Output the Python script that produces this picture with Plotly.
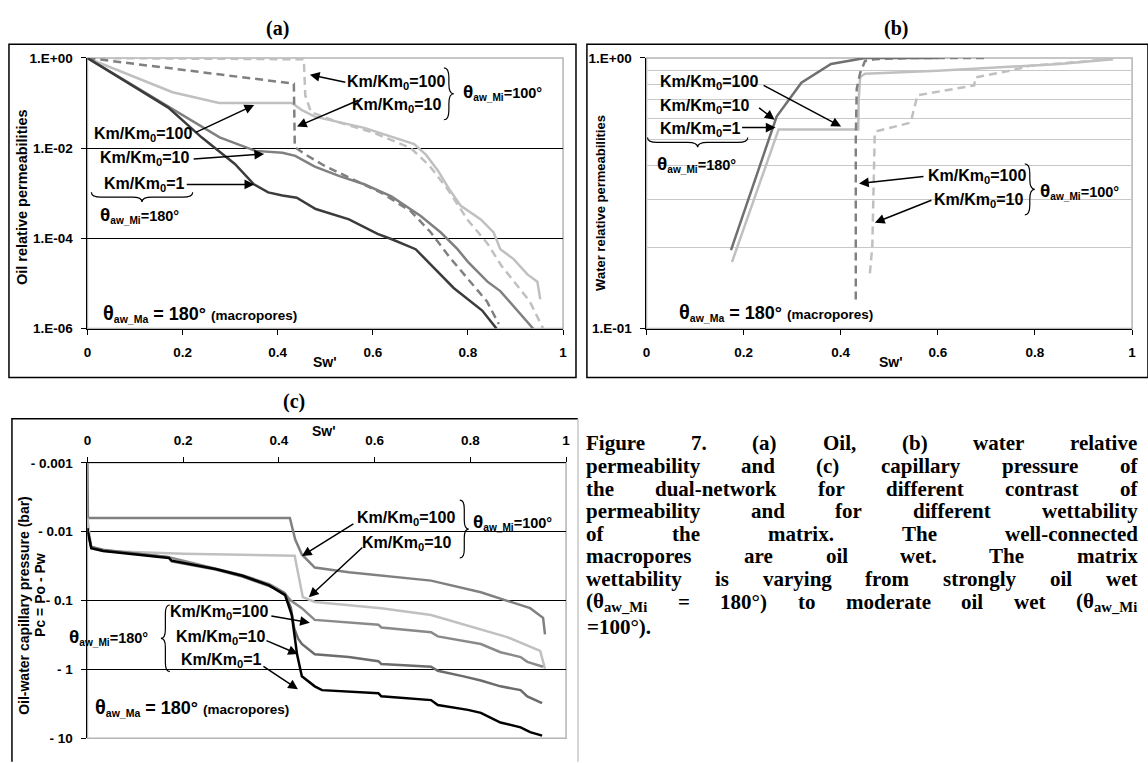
import plotly.graph_objects as go

W, H = 1148, 763
SANS = "Liberation Sans, Arial, sans-serif"
SERIF = "Liberation Serif, Times New Roman, serif"
DARK, MED, LIGHT, BLACK = "#3c3c3c", "#808080", "#c0c0c0", "#000000"

# ---------------- (a) oil relative permeability : log10(kro) vs Sw' ----------------
a_sw_km1_180 = [0, 0.17, 0.24, 0.31, 0.35, 0.38, 0.41, 0.44, 0.48, 0.55, 0.61, 0.64, 0.69, 0.73, 0.77, 0.83, 0.86]
a_lg_km1_180 = [0, -1.1, -1.76, -2.35, -2.8, -2.98, -3.05, -3.1, -3.35, -3.58, -3.9, -4.02, -4.24, -4.67, -5.1, -5.6, -6.0]
a_sw_km10_180 = [0, 0.17, 0.278, 0.353, 0.41, 0.437, 0.478, 0.53, 0.582, 0.639, 0.70, 0.743, 0.778, 0.80, 0.841, 0.868, 0.91, 0.937]
a_lg_km10_180 = [0, -1.08, -1.76, -2.06, -2.1, -2.17, -2.41, -2.62, -2.8, -3.07, -3.5, -3.87, -4.24, -4.52, -4.96, -5.17, -5.67, -6.0]
a_sw_km100_180 = [0, 0.179, 0.277, 0.43, 0.45, 0.478, 0.582, 0.687, 0.712, 0.737, 0.76, 0.785, 0.827, 0.854, 0.868, 0.896, 0.925, 0.946, 0.952]
a_lg_km100_180 = [0, -0.76, -1.0, -1.0, -1.15, -1.3, -1.55, -1.91, -2.15, -2.5, -2.9, -3.28, -3.58, -3.87, -4.24, -4.46, -4.8, -4.96, -5.35]
a_sw_km100_100 = [0, 0.434, 0.436, 0.46, 0.50, 0.56, 0.62, 0.68, 0.722, 0.76, 0.80, 0.84, 0.865]
a_lg_km100_100 = [0, -0.57, -1.98, -2.15, -2.4, -2.7, -3.0, -3.4, -3.87, -4.4, -4.9, -5.4, -5.9]
a_sw_km10_100 = [0, 0.455, 0.458, 0.47, 0.52, 0.60, 0.68, 0.72, 0.76, 0.80, 0.84, 0.87, 0.90, 0.93, 0.958]
a_lg_km10_100 = [0, -0.03, -0.83, -1.2, -1.4, -1.65, -2.0, -2.4, -2.95, -3.6, -4.1, -4.6, -5.0, -5.4, -6.0]

# ---------------- (b) water relative permeability : krw vs Sw' ----------------
b_sw_km10_180 = [0.174, 0.268, 0.319, 0.38, 0.45, 0.6]
b_kr_km10_180 = [0.195, 0.607, 0.81, 0.95, 1.0, 1.0]
b_sw_km100_180 = [0.176, 0.272, 0.436, 0.437, 0.44, 0.45, 0.60, 0.70, 0.85, 0.961]
b_kr_km100_180 = [0.176, 0.544, 0.544, 0.7, 0.85, 0.875, 0.897, 0.92, 0.95, 0.99]
b_sw_km100_100 = [0.431, 0.431, 0.433, 0.44, 0.45, 0.47, 0.55, 0.7]
b_kr_km100_100 = [0.128, 0.5, 0.77, 0.88, 0.975, 0.99, 1.0, 1.0]
b_sw_km10_100 = [0.46, 0.465, 0.47, 0.472, 0.544, 0.552, 0.558, 0.675, 0.677, 0.748, 0.789, 0.87, 0.953]
b_kr_km10_100 = [0.16, 0.2, 0.52, 0.535, 0.577, 0.653, 0.728, 0.792, 0.847, 0.897, 0.935, 0.96, 0.99]

# ---------------- (c) capillary pressure : log10(-Pc [bar]) vs Sw' ----------------
c_sw_km100_100 = [0, 0.001, 0.423, 0.434, 0.448, 0.475, 0.546, 0.63, 0.718, 0.822, 0.925, 0.952, 0.956]
c_lg_km100_100 = [-3, -2.2, -2.2, -1.89, -1.67, -1.48, -1.41, -1.35, -1.29, -1.12, -0.89, -0.75, -0.51]
c_sw_km10_100 = [0, 0.008, 0.033, 0.2, 0.433, 0.44, 0.45, 0.475, 0.614, 0.718, 0.786, 0.877, 0.946, 0.956]
c_lg_km10_100 = [-2.2, -1.76, -1.72, -1.68, -1.65, -1.4, -1.05, -0.98, -0.89, -0.79, -0.65, -0.47, -0.27, -0.01]
c_sw_km100_180 = [0, 0.001, 0.008, 0.033, 0.17, 0.268, 0.324, 0.38, 0.41, 0.425, 0.437, 0.448, 0.475, 0.546, 0.608, 0.614, 0.718, 0.732, 0.795, 0.822, 0.863, 0.905, 0.919, 0.952]
c_lg_km100_180 = [-2.05, -2.0, -1.78, -1.74, -1.63, -1.47, -1.37, -1.24, -1.12, -1.0, -0.94, -0.89, -0.72, -0.68, -0.65, -0.61, -0.54, -0.48, -0.40, -0.37, -0.25, -0.18, -0.11, -0.04]
c_sw_km10_180 = [0, 0.001, 0.008, 0.033, 0.17, 0.176, 0.268, 0.324, 0.38, 0.413, 0.425, 0.432, 0.44, 0.448, 0.475, 0.546, 0.608, 0.614, 0.718, 0.732, 0.786, 0.822, 0.863, 0.905, 0.919, 0.95]
c_lg_km10_180 = [-2.05, -2.0, -1.78, -1.73, -1.63, -1.57, -1.45, -1.35, -1.21, -1.1, -0.9, -0.6, -0.45, -0.37, -0.22, -0.18, -0.12, -0.08, -0.04, 0.02, 0.10, 0.16, 0.245, 0.30, 0.39, 0.49]
c_sw_km1_180 = [0, 0.001, 0.008, 0.033, 0.17, 0.176, 0.268, 0.324, 0.38, 0.413, 0.427, 0.434, 0.438, 0.448, 0.475, 0.49, 0.608, 0.614, 0.718, 0.732, 0.795, 0.822, 0.863, 0.905, 0.925, 0.95]
c_lg_km1_180 = [-2.05, -2.0, -1.76, -1.72, -1.62, -1.58, -1.46, -1.36, -1.22, -1.08, -0.79, -0.47, -0.22, 0.10, 0.245, 0.30, 0.345, 0.39, 0.445, 0.516, 0.587, 0.63, 0.77, 0.84, 0.91, 0.96]

sw_ticks = [0, 0.2, 0.4, 0.6, 0.8, 1]
sw_ticktext = ["0", "0.2", "0.4", "0.6", "0.8", "1"]
a_yticks = [1e-6, 1e-4, 1e-2, 1]
a_yticktext = ["1.E-06", "1.E-04", "1.E-02", "1.E+00"]
b_yticks = [0.1, 1]
b_yticktext = ["1.E-01", "1.E+00"]
b_minor = [0.2, 0.3, 0.4, 0.5, 0.6, 0.7, 0.8, 0.9]
c_yticks = [0.001, 0.01, 0.1, 1, 10]
c_yticktext = ["- 0.001", "- 0.01", "- 0.1", "- 1", "- 10"]

caption_lines = [
    "Figure 7. (a) Oil, (b) water relative",
    "permeability and (c) capillary pressure of",
    "the dual-network for different contrast of",
    "permeability and for different wettability",
    "of the matrix. The well-connected",
    "macropores are oil wet. The matrix",
    "wettability is varying from strongly oil wet",
    "(θ<sub>aw_Mi</sub> = 180°) to moderate oil wet (θ<sub>aw_Mi</sub>",
    "=100°).",
]

fig = go.Figure()


def line(x, y, color, xa, ya, dash="solid", width=2.5):
    fig.add_trace(go.Scatter(x=x, y=y, mode="lines", xaxis=xa, yaxis=ya,
                             line=dict(color=color, width=width, dash=dash),
                             showlegend=False, hoverinfo="skip"))


def pw(v):
    return [10 ** t for t in v]


DASH = "8px,5px"
# (a)
line(a_sw_km10_100, pw(a_lg_km10_100), LIGHT, "x", "y", DASH)
line(a_sw_km100_180, pw(a_lg_km100_180), LIGHT, "x", "y")
line(a_sw_km100_100, pw(a_lg_km100_100), MED, "x", "y", DASH)
line(a_sw_km10_180, pw(a_lg_km10_180), MED, "x", "y")
line(a_sw_km1_180, pw(a_lg_km1_180), DARK, "x", "y")
# (b)
line(b_sw_km10_100, b_kr_km10_100, LIGHT, "x2", "y2", DASH)
line(b_sw_km100_180, b_kr_km100_180, LIGHT, "x2", "y2")
line(b_sw_km100_100, b_kr_km100_100, MED, "x2", "y2", DASH)
line(b_sw_km10_180, b_kr_km10_180, "#707070", "x2", "y2")
# (c)
line(c_sw_km100_100, pw(c_lg_km100_100), MED, "x3", "y3")
line(c_sw_km10_100, pw(c_lg_km10_100), LIGHT, "x3", "y3")
line(c_sw_km100_180, pw(c_lg_km100_180), "#8a8a8a", "x3", "y3")
line(c_sw_km10_180, pw(c_lg_km10_180), "#6c6c6c", "x3", "y3")
line(c_sw_km1_180, pw(c_lg_km1_180), BLACK, "x3", "y3")

TICKFONT = dict(family=SANS, size=13.5, color="black", weight="bold")


def xax(dom, anchor, side="bottom"):
    return dict(domain=dom, anchor=anchor, side=side, range=[0, 1], tickvals=sw_ticks,
                ticktext=sw_ticktext, ticks="outside", ticklen=5, tickcolor="black",
                showline=True, linecolor="black", linewidth=1, showgrid=False,
                zeroline=False, tickfont=TICKFONT, ticklabelstandoff=6, fixedrange=True)


def yax(dom, anchor, rng, tv, tt, minor_vals, minor_color):
    return dict(domain=dom, anchor=anchor, type="log", range=rng, tickvals=tv, ticktext=tt,
                ticks="outside", ticklen=5, tickcolor="black", showline=True,
                linecolor="black", linewidth=1, showgrid=False, zeroline=False,
                tickfont=TICKFONT, ticklabelstandoff=6,
                minor=dict(tickvals=minor_vals, showgrid=True, gridcolor=minor_color,
                           gridwidth=1, ticks=""))


def dom_x(p0, p1):
    return [p0 / W, p1 / W]


def dom_y(top, bot):
    return [1 - bot / H, 1 - top / H]


fig.update_layout(
    width=W, height=H, margin=dict(l=0, r=0, t=0, b=0),
    paper_bgcolor="white", plot_bgcolor="white", showlegend=False,
    xaxis=xax(dom_x(84, 563), "y"),
    yaxis=yax(dom_y(52, 328), "x", [-6, 0], a_yticks, a_yticktext, [1e-4, 1e-2], "black"),
    xaxis2=xax(dom_x(647, 1136), "y2"),
    yaxis2=yax(dom_y(52, 328), "x2", [-1, 0], b_yticks, b_yticktext, b_minor, "#c8c8c8"),
    xaxis3=xax(dom_x(84, 566), "y3", side="top"),
    yaxis3=yax(dom_y(465, 746), "x3", [1, -3], c_yticks, c_yticktext, [0.01, 0.1, 1], "black"),
)


def P(x, y):
    return f"{x / W:.5f},{1 - y / H:.5f}"


shapes = []
# plot-area frames (light grey)
for xr, yr in (("x domain", "y domain"), ("x2 domain", "y2 domain"), ("x3 domain", "y3 domain")):
    shapes.append(dict(type="rect", xref=xr, yref=yr, x0=0, x1=1, y0=0, y1=1,
                       line=dict(color="#b4b4b4", width=1.5), layer="below"))
# outer panel frames
for (x0, y0, x1, y1) in ((5, 38, 576, 378), (587, 38, 1152, 378)):
    shapes.append(dict(type="rect", xref="paper", yref="paper", x0=x0 / W, x1=x1 / W,
                       y0=1 - y1 / H, y1=1 - y0 / H, line=dict(color="black", width=1.5)))
shapes.append(dict(type="path", xref="paper", yref="paper",
                   path=f"M {P(8, 770)} L {P(8, 420)} L {P(578, 420)}",
                   line=dict(color="black", width=1.5)))
shapes.append(dict(type="path", xref="paper", yref="paper",
                   path=f"M {P(578, 420)} L {P(578, 770)}",
                   line=dict(color="#c8c8c8", width=1.5)))


def hbrace(x0, x1, y0, h):
    xm, ym, r = (x0 + x1) / 2, y0 + h / 2, min(h, (x1 - x0) / 4)
    return (f"M {P(x0, y0)} Q {P(x0, ym)} {P(x0 + r, ym)} L {P(xm - r, ym)} "
            f"Q {P(xm, ym)} {P(xm, y0 + h)} Q {P(xm, ym)} {P(xm + r, ym)} "
            f"L {P(x1 - r, ym)} Q {P(x1, ym)} {P(x1, y0)}")


def vbrace(x0, y0, y1, w, d=1):
    xm, yc, r = x0 + d * w / 2, (y0 + y1) / 2, min(w, (y1 - y0) / 4)
    return (f"M {P(x0, y0)} Q {P(xm, y0)} {P(xm, y0 + r)} L {P(xm, yc - r)} "
            f"Q {P(xm, yc)} {P(x0 + d * w, yc)} Q {P(xm, yc)} {P(xm, yc + r)} "
            f"L {P(xm, y1 - r)} Q {P(xm, y1)} {P(x0, y1)}")


for pth in (hbrace(88, 190, 189, 10), hbrace(648, 749, 133, 10),
            vbrace(443, 62, 115, 10), vbrace(1028, 160, 212, 10),
            vbrace(459, 503, 562, 9), vbrace(167, 610, 678, 9, -1)):
    shapes.append(dict(type="path", xref="paper", yref="paper", path=pth,
                       line=dict(color="black", width=1.2)))
fig.update_layout(shapes=shapes)

ann = []


def txt(x, y, s, size=16, xanchor="center", family=SANS, angle=0, weight="bold"):
    ann.append(dict(x=x / W, y=1 - y / H, xref="paper", yref="paper", text=s,
                    showarrow=False, xanchor=xanchor, yanchor="middle", textangle=angle,
                    font=dict(family=family, size=size, color="black", weight=weight)))


def arrow(hx, hy, tx, ty):
    ann.append(dict(x=hx / W, y=1 - hy / H, xref="paper", yref="paper", text="",
                    showarrow=True, ax=tx - hx, ay=ty - hy, axref="pixel", ayref="pixel",
                    arrowhead=2, arrowsize=1.3, arrowwidth=1.5, arrowcolor="black"))


KM = lambda v: f"Km/Km<sub>0</sub>={v}"
TH = lambda v: f"<span style='font-size:19px'>θ</span><sub>aw_Mi</sub>={v}°"
THMA = "<span style='font-size:20px'>θ</span><sub>aw_Ma</sub><span style='font-size:18px'> = 180° </span><span style='font-size:13.5px'>(macropores)</span>"

# titles
txt(275, 22, "(a)", 20, family=SERIF)
txt(898, 22, "(b)", 20, family=SERIF)
txt(292, 402, "(c)", 20, family=SERIF)
# axis titles
txt(18, 194, "Oil relative permeabilities", 14.5, angle=-90)
txt(600, 200, "Water relative permeabilities", 13, angle=-90)
txt(20, 610, "Oil-water capillary pressure (bar)", 14, angle=-90)
txt(36, 600, "Pc = Po - Pw", 14, angle=-90)
txt(323, 362, "Sw'", 14)
txt(893, 362, "Sw'", 14)
txt(322, 433, "Sw'", 14)

# (a) labels
txt(140, 130, KM(100)); arrow(252, 100, 192, 128)
txt(141, 155, KM(10)); arrow(262, 150, 190, 155)
txt(141, 181, KM(1)); arrow(252, 181, 183, 181)
txt(136, 212, TH(180), 14.5)
txt(98, 313, THMA, 15, xanchor="left")
txt(395, 77, KM(100)); arrow(308, 69, 345, 77)
txt(395, 100, KM(10)); arrow(295, 122, 358, 95)
txt(460, 87, TH(100), 14.5, xanchor="left")

# (b) labels
txt(710, 77, KM(100)); arrow(843, 122, 764, 80)
txt(705, 101, KM(10)); arrow(776, 115, 759, 102)
txt(701, 125, KM(1)); arrow(777, 123, 742, 123)
txt(697, 160, TH(180), 14.5)
txt(678, 312, THMA, 15, xanchor="left")
txt(980, 173, KM(100)); arrow(861, 180, 927, 173)
txt(981, 197, KM(10)); arrow(877, 220, 935, 197)
txt(1041, 188, TH(100), 14.5, xanchor="left")

# (c) labels
txt(405, 522, KM(100)); arrow(300, 560, 353, 527)
txt(405, 547, KM(10)); arrow(307, 602, 362, 551)
txt(470, 525, TH(100), 14.5, xanchor="left")
txt(217, 618, KM(100)); arrow(308, 628, 268, 621)
txt(218, 643, KM(10)); arrow(296, 660, 263, 646)
txt(219, 667, KM(1)); arrow(296, 696, 260, 672)
txt(105, 643, TH(180), 14.5)
txt(90, 715, THMA, 15, xanchor="left")

# caption (justified word by word)
TW = {' ': 250, '.': 250, ',': 250, '(': 333, ')': 333, '-': 333, '=': 570, '°': 400,
      '0': 500, '1': 500, '7': 500, '8': 500, 'a': 500, 'b': 556, 'c': 444, 'd': 556,
      'e': 444, 'f': 333, 'g': 500, 'h': 556, 'i': 278, 'k': 556, 'l': 278, 'm': 833,
      'n': 556, 'o': 500, 'p': 556, 'r': 444, 's': 389, 't': 333, 'u': 556, 'v': 500,
      'w': 722, 'x': 500, 'y': 500, '_': 500, 'F': 611, 'M': 944, 'O': 778, 'T': 667,
      'θ': 520}


def wwidth(word, size):
    tot, sub, i = 0.0, False, 0
    while i < len(word):
        if word.startswith("<sub>", i):
            sub, i = True, i + 5
            continue
        if word.startswith("</sub>", i):
            sub, i = False, i + 6
            continue
        tot += TW.get(word[i], 500) * (0.7 if sub else 1.0)
        i += 1
    return tot * size / 1000


CAP_SIZE = 21
CAP_L, CAP_R = 585, 1140
cap_y0, cap_dy = 445, 23.1
for k, ln in enumerate(caption_lines):
    y = cap_y0 + k * cap_dy
    words = ln.split(" ")
    if k == len(caption_lines) - 1 or len(words) == 1:
        txt(CAP_L, y + 3, ln, CAP_SIZE, xanchor="left", family=SERIF)
        continue
    ws = [wwidth(w, CAP_SIZE) for w in words]
    gap = (CAP_R - CAP_L - sum(ws)) / (len(words) - 1)
    x = CAP_L
    for w, wd in zip(words, ws):
        txt(x - 1, y, w, CAP_SIZE, xanchor="left", family=SERIF)
        x += wd + gap

fig.update_layout(annotations=ann)
fig.write_html("out.html")
